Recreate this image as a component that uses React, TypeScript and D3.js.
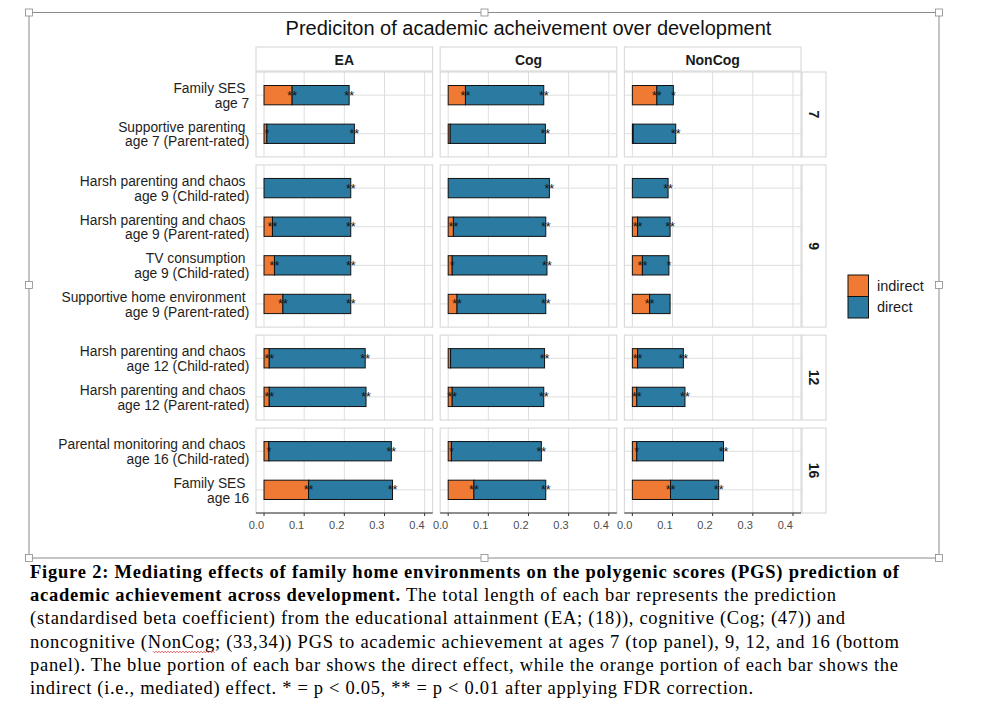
import React from "react";
import * as d3 from "d3";

// ---------- DATA ----------
const facets = ["EA", "Cog", "NonCog"];
const ages = ["7", "9", "12", "16"];

const labelLine1 = [
  "Family SES",
  "Supportive parenting",
  "Harsh parenting and chaos",
  "Harsh parenting and chaos",
  "TV consumption",
  "Supportive home environment",
  "Harsh parenting and chaos",
  "Harsh parenting and chaos",
  "Parental monitoring and chaos",
  "Family SES",
];
const labelLine2 = [
  "age 7",
  "age 7 (Parent-rated)",
  "age 9 (Child-rated)",
  "age 9 (Parent-rated)",
  "age 9 (Child-rated)",
  "age 9 (Parent-rated)",
  "age 12 (Child-rated)",
  "age 12 (Parent-rated)",
  "age 16 (Child-rated)",
  "age 16",
];
const predictorAge = ["7", "7", "9", "9", "9", "9", "12", "12", "16", "16"];

const indirectEA = [0.07, 0.007, 0.0, 0.021, 0.026, 0.047, 0.013, 0.013, 0.012, 0.111];
const directEA = [0.142, 0.218, 0.216, 0.195, 0.19, 0.169, 0.239, 0.241, 0.305, 0.209];
const indirectCog = [0.043, 0.005, 0.0, 0.013, 0.01, 0.022, 0.006, 0.01, 0.008, 0.064];
const directCog = [0.195, 0.237, 0.252, 0.23, 0.236, 0.221, 0.234, 0.228, 0.224, 0.179];
const indirectNonCog = [0.061, 0.002, 0.0, 0.013, 0.025, 0.043, 0.013, 0.011, 0.011, 0.095];
const directNonCog = [0.041, 0.106, 0.089, 0.081, 0.066, 0.051, 0.114, 0.12, 0.216, 0.12];

const starsIndirectEA = ["**", "*", "", "**", "**", "**", "**", "**", "*", "**"];
const starsDirectEA = ["**", "**", "**", "**", "**", "**", "**", "**", "**", "**"];
const starsIndirectCog = ["**", "", "", "**", "*", "**", "", "**", "*", "**"];
const starsDirectCog = ["**", "**", "**", "**", "**", "**", "**", "**", "**", "**"];
const starsIndirectNonCog = ["**", "", "", "**", "**", "**", "**", "**", "*", "**"];
const starsDirectNonCog = ["*", "**", "**", "**", "*", "", "**", "**", "**", "**"];

const xTicks = [0, 0.1, 0.2, 0.3, 0.4];
const legendKeys = ["indirect", "direct"];

const titleText = "Prediciton of academic acheivement over development";

const captionLines: { bold: string; normal: string; width: number }[] = [
  { bold: "Figure 2: Mediating effects of family home environments on the polygenic scores (PGS) prediction of", normal: "", width: 869 },
  { bold: "academic achievement across development.", normal: " The total length of each bar represents the prediction", width: 806 },
  { bold: "", normal: "(standardised beta coefficient) from the educational attainment (EA; (18)), cognitive (Cog; (47)) and", width: 815 },
  { bold: "", normal: "noncognitive (NonCog; (33,34)) PGS to academic achievement at ages 7 (top panel), 9, 12, and 16 (bottom", width: 869 },
  { bold: "", normal: "panel). The blue portion of each bar shows the direct effect, while the orange portion of each bar shows the", width: 868 },
  { bold: "", normal: "indirect (i.e., mediated) effect. * = p < 0.05, ** = p < 0.01 after applying FDR correction.", width: 723 },
];

// ---------- STYLE ----------
const ORANGE = "#F07A33";
const BLUE = "#2B7AA1";
const GRID = "#dedede";
const BORDER = "#d4d4d4";
const SANS = "'Liberation Sans', Arial, Helvetica, sans-serif";
const SERIF = "'Liberation Serif', 'Times New Roman', serif";

const indirectByFacet = [indirectEA, indirectCog, indirectNonCog];
const directByFacet = [directEA, directCog, directNonCog];
const starsIndByFacet = [starsIndirectEA, starsIndirectCog, starsIndirectNonCog];
const starsDirByFacet = [starsDirectEA, starsDirectCog, starsDirectNonCog];

export default function App() {
  const W = 1000;
  const H = 713;

  // horizontal layout of facet columns
  const colLeft = 256;
  const colRight = 801;
  const colGap = 7.5;
  const colW = (colRight - colLeft - colGap * (facets.length - 1)) / facets.length;
  const cols = facets.map((f, i) => {
    const x0 = colLeft + i * (colW + colGap);
    const x1 = x0 + colW;
    const x = d3.scaleLinear().domain([-0.02, 0.42]).range([x0, x1]);
    return { f, x0, x1, x };
  });

  // vertical layout of age rows (free space)
  const rowTop = 72;
  const rowBottom = 513;
  const rowGap = 8;
  const counts = ages.map((a) => predictorAge.filter((p) => p === a).length);
  const units = counts.map((c) => c + 0.2);
  const unitPx = (rowBottom - rowTop - rowGap * (ages.length - 1)) / d3.sum(units);
  let acc = rowTop;
  const rows = ages.map((a, i) => {
    const y0 = acc;
    const y1 = y0 + units[i] * unitPx;
    acc = y1 + rowGap;
    const idx = predictorAge.map((p, j) => (p === a ? j : -1)).filter((j) => j >= 0);
    const y = d3.scalePoint<number>().domain(idx).range([y0, y1]).padding(0.6);
    return { a, y0, y1, idx, y };
  });

  const barH = unitPx * 0.5;

  const handles: [number, number][] = [
    [29, 12.5], [484.5, 12.5], [939, 12.5],
    [29, 285], [939, 285],
    [29, 558], [484.5, 558], [939, 558],
  ];

  // red spell-check wave under "NonCog"
  const wavePts: [number, number][] = [];
  for (let xx = 153; xx <= 215; xx += 1.5) {
    wavePts.push([xx, 652 + (Math.round((xx - 153) / 1.5) % 2 === 0 ? -0.8 : 0.8)]);
  }
  const wave = d3.line()(wavePts) || "";

  return (
    <svg
      width={W}
      height={H}
      viewBox={`0 0 ${W} ${H}`}
      style={{ position: "absolute", left: 0, top: 0, background: "#fff" }}
    >
      <rect x={0} y={0} width={W} height={H} fill="#fff" />
      {/* document frame */}
      <rect x={29} y={12.5} width={910} height={545.5} fill="none" stroke="#8a8a8a" strokeWidth={1} />
      {handles.map(([hx, hy], i) => (
        <rect key={i} x={hx - 3.5} y={hy - 3.5} width={7} height={7} fill="#fff" stroke="#8a8a8a" strokeWidth={0.8} />
      ))}

      {/* title */}
      <text x={528.5} y={34.5} textAnchor="middle" fontFamily={SANS} fontSize={20} fill="#111">
        {titleText}
      </text>

      {/* strips top */}
      {cols.map((c) => (
        <g key={"st" + c.f}>
          <rect x={c.x0} y={47} width={c.x1 - c.x0} height={24} fill="#fff" stroke={BORDER} strokeWidth={1} />
          <text x={(c.x0 + c.x1) / 2} y={64.5} textAnchor="middle" fontFamily={SANS} fontWeight="bold" fontSize={14} fill="#1a1a1a">
            {c.f}
          </text>
        </g>
      ))}

      {/* strips right */}
      {rows.map((r) => (
        <g key={"sr" + r.a}>
          <rect x={802} y={r.y0} width={24} height={r.y1 - r.y0} fill="#fff" stroke={BORDER} strokeWidth={1} />
          <text
            transform={`translate(${814},${(r.y0 + r.y1) / 2}) rotate(90)`}
            textAnchor="middle"
            dy={5}
            fontFamily={SANS}
            fontWeight="bold"
            fontSize={14}
            fill="#1a1a1a"
          >
            {r.a}
          </text>
        </g>
      ))}

      {/* panels */}
      {rows.map((r) =>
        cols.map((c, fi) => (
          <g key={"p" + r.a + c.f}>
            <rect x={c.x0} y={r.y0} width={c.x1 - c.x0} height={r.y1 - r.y0} fill="#fff" />
            {xTicks.map((t) => (
              <line key={t} x1={c.x(t)} x2={c.x(t)} y1={r.y0} y2={r.y1} stroke={GRID} strokeWidth={1} />
            ))}
            {r.idx.map((j) => (
              <line key={j} x1={c.x0} x2={c.x1} y1={r.y(j)!} y2={r.y(j)!} stroke={GRID} strokeWidth={1} />
            ))}
            {r.idx.map((j) => {
              const ind = indirectByFacet[fi][j];
              const dir = directByFacet[fi][j];
              const yc = r.y(j)!;
              return (
                <g key={"b" + j}>
                  {ind > 0 && (
                    <rect x={c.x(0)} y={yc - barH / 2} width={c.x(ind) - c.x(0)} height={barH} fill={ORANGE} stroke="#111" strokeWidth={1} />
                  )}
                  <rect x={c.x(ind)} y={yc - barH / 2} width={c.x(ind + dir) - c.x(ind)} height={barH} fill={BLUE} stroke="#111" strokeWidth={1} />
                  <text x={c.x(ind)} y={yc + 4.5} textAnchor="middle" fontFamily={SANS} fontSize={12.5} fill="#111">
                    {starsIndByFacet[fi][j]}
                  </text>
                  <text x={c.x(ind + dir)} y={yc + 4.5} textAnchor="middle" fontFamily={SANS} fontSize={12.5} fill="#111">
                    {starsDirByFacet[fi][j]}
                  </text>
                </g>
              );
            })}
            <rect x={c.x0} y={r.y0} width={c.x1 - c.x0} height={r.y1 - r.y0} fill="none" stroke={BORDER} strokeWidth={1} />
          </g>
        ))
      )}

      {/* x axes */}
      {cols.map((c) => (
        <g key={"ax" + c.f}>
          <line x1={c.x0} x2={c.x1} y1={rowBottom} y2={rowBottom} stroke="#333" strokeWidth={1.2} />
          {xTicks.map((t) => (
            <g key={t}>
              <line x1={c.x(t)} x2={c.x(t)} y1={rowBottom} y2={rowBottom + 3} stroke="#333" strokeWidth={1} />
              <text x={c.x(t)} y={529} textAnchor="end" fontFamily={SANS} fontSize={11} fill="#4d4d4d">
                {d3.format(".1f")(t)}
              </text>
            </g>
          ))}
        </g>
      ))}

      {/* y labels */}
      {rows.map((r) =>
        r.idx.map((j) => {
          const yc = r.y(j)!;
          return (
            <g key={"yl" + j}>
              <text x={245.5} y={yc - 2} textAnchor="end" fontFamily={SANS} fontSize={13.8} fill="#1e1e1e">
                {labelLine1[j]}
              </text>
              <text x={249.3} y={yc + 12.7} textAnchor="end" fontFamily={SANS} fontSize={13.8} fill="#1e1e1e">
                {labelLine2[j]}
              </text>
            </g>
          );
        })
      )}

      {/* legend */}
      {legendKeys.map((k, i) => (
        <g key={k}>
          <rect x={848} y={275 + i * 21.5} width={20.5} height={21.5} fill={i === 0 ? ORANGE : BLUE} stroke="#111" strokeWidth={1} />
          <text x={877} y={290.5 + i * 21.5} fontFamily={SANS} fontSize={14.5} fill="#1a1a1a">
            {k}
          </text>
        </g>
      ))}

      {/* caption */}
      {captionLines.map((l, i) => (
        <text
          key={"cap" + i}
          x={30}
          y={577.7 + i * 23.3}
          fontFamily={SERIF}
          fontSize={18.5}
          fill="#000"
          textLength={l.width}
          lengthAdjust="spacing"
        >
          {l.bold && <tspan fontWeight="bold">{l.bold}</tspan>}
          {l.normal && <tspan>{l.normal}</tspan>}
        </text>
      ))}
      <path d={wave} fill="none" stroke="#d33" strokeWidth={0.8} />
    </svg>
  );
}
